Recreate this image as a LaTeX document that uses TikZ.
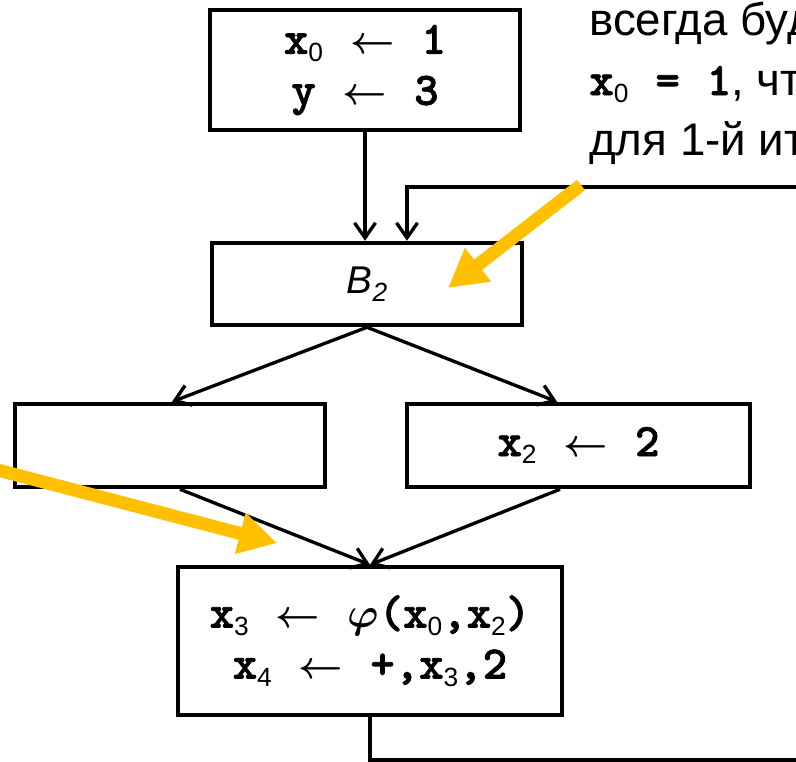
\RequirePackage{fix-cm}
\documentclass[tikz,border=0pt]{standalone}
\usepackage{fontspec}
\setmainfont{Liberation Sans}
\newfontfamily\courfont{lmmonolt10-bold.otf}[FakeBold=1.6]
\usetikzlibrary{arrows.meta}
\definecolor{gold}{HTML}{FFC000}
\newcommand{\mt}[1]{{\fontsize{26.5}{29}\selectfont\courfont #1}}
\newcommand{\ms}{\hspace{0.54cm}}
\newcommand{\lo}[1]{\raisebox{-4.5pt}{\fontsize{15}{15}\selectfont #1}}
\newcommand{\la}{{\fontsize{22}{22}\selectfont\boldmath$\leftarrow$}}
\newcommand{\phifn}{{\fontsize{24}{24}\selectfont\boldmath$\varphi$}}
\begin{document}
\begin{tikzpicture}[x=0.02cm, y=-0.02cm]
	\tikzset{blk/.style={draw, line width=2.6pt, align=center, font=\fontsize{21}{29}\selectfont},
		ar/.style={line width=1.9pt, -{Straight Barb[length=0.3cm, width=0.42cm]}},
		hl/.style={draw=gold, line width=0.26cm, -{Triangle[length=0.76cm, width=0.8cm]}},
		note/.style={anchor=base west, inner sep=0pt, font=\fontsize{26}{26}\selectfont}};

	\useasboundingbox (0,0) rectangle (796,762);
	\clip (0,0) rectangle (796,762);

	\node[blk, minimum width=6.2cm, minimum height=2.4cm] (a) at (365,70) {\mt{x}\lo{0}\ms\la\ms\mt{1}\\ \mt{y}\ms\la\ms\mt{3}};
	\node[blk, minimum width=6.2cm, minimum height=1.64cm, font=\fontsize{22}{22}\selectfont] (b2) at (367,284) {\textit{B\lo{2}}};
	\node[blk, minimum width=6.2cm, minimum height=1.66cm] (lf) at (170,445.5) {};
	\node[blk, minimum width=6.86cm, minimum height=1.66cm] (rt) at (578.5,445.5) {\mt{x}\lo{2}\ms\la\ms\mt{2}};
	\node[blk, minimum width=7.68cm, minimum height=2.96cm] (c) at (370,641) {\mt{x}\lo{3}\ms\la\ms\phifn\mt{(x}\lo{0}\mt{,x}\lo{2}\mt{)}\\ \mt{x}\lo{4}\ms\la\ms\mt{+,x}\lo{3}\mt{,2}};

	\node[note] (t1) at (589,35) {всегда будет};
	\node[note] (t2) at (589,95) {\mt{x}\lo{0}\ms\mt{=}\ms\mt{1}, что};
	\node[note] (t3) at (589,155) {для 1-й итерации};

	\coordinate (lp1) at (830,760);
	\coordinate (lp2) at (830,187);
	\coordinate (lp3) at (407,187);

	\draw[ar] (a.south) to (a.south |- b2.north);
	\draw[ar] (b2.south) to ([xshift=0.04cm]lf.north);
	\draw[ar] (b2.south) to ([xshift=-0.43cm]rt.north);
	\draw[ar] ([xshift=0.2cm]lf.south) to (c.north);
	\draw[ar] ([xshift=-0.37cm]rt.south) to (c.north);
	\draw[ar] (c.south) |- (lp1) -- (lp2) -- (lp3) -- (lp3 |- b2.north);

	\coordinate (y1) at (581,185);
	\coordinate (y2) at (448,288);
	\coordinate (y3) at (-10,468);
	\coordinate (y4) at (277,543);
	\draw[hl] (y1) -- (y2);
	\draw[hl] (y3) -- (y4);
\end{tikzpicture}
\end{document}
